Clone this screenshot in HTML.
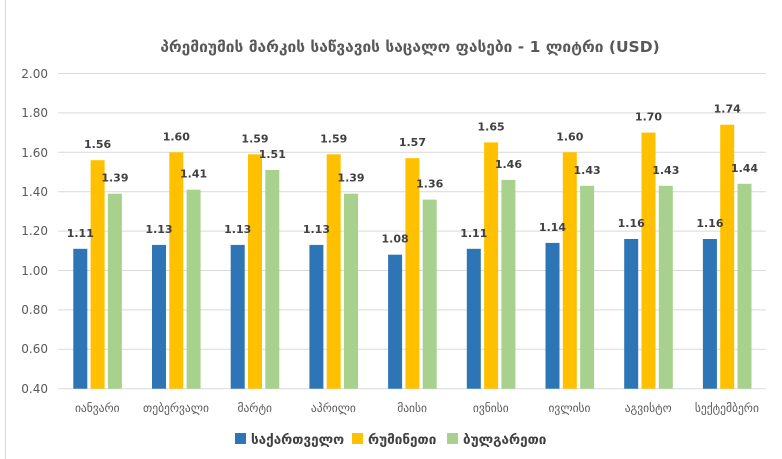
<!DOCTYPE html>
<html><head><meta charset="utf-8"><style>
body{margin:0;background:#fff}
svg{display:block}
text{font-family:"DejaVu Sans","Liberation Sans",sans-serif}
.l{font-size:11px;font-weight:bold;fill:#404040;text-anchor:middle}
.c{font-size:11.5px;fill:#595959;text-anchor:middle}
</style></head><body>
<svg width="782" height="459" xmlns="http://www.w3.org/2000/svg">
<rect x="0" y="0" width="782" height="459" fill="#fff"/>
<line x1="5.5" y1="0" x2="5.5" y2="459" stroke="#d9d9d9"/>
<text x="410" y="52" text-anchor="middle" font-size="15.5" font-weight="bold" fill="#595959">პრემიუმის მარკის საწვავის საცალო ფასები - 1 ლიტრი (USD)</text>
<g stroke="#d9d9d9" stroke-width="1">
<line x1="58" x2="766" y1="73.5" y2="73.5"/>
<line x1="58" x2="766" y1="112.9" y2="112.9"/>
<line x1="58" x2="766" y1="152.3" y2="152.3"/>
<line x1="58" x2="766" y1="191.7" y2="191.7"/>
<line x1="58" x2="766" y1="231.1" y2="231.1"/>
<line x1="58" x2="766" y1="270.5" y2="270.5"/>
<line x1="58" x2="766" y1="309.9" y2="309.9"/>
<line x1="58" x2="766" y1="349.3" y2="349.3"/>
<line x1="58" x2="766" y1="388.7" y2="388.7"/>
</g>
<g font-size="12" fill="#595959" text-anchor="end">
<text x="48" y="78">2.00</text><text x="48" y="117">1.80</text><text x="48" y="157">1.60</text>
<text x="48" y="196">1.40</text><text x="48" y="235">1.20</text><text x="48" y="275">1.00</text>
<text x="48" y="314">0.80</text><text x="48" y="353">0.60</text><text x="48" y="393">0.40</text>
</g>

<rect x="73.3" y="248.8" width="14" height="139.9" fill="#2e75b6"/>
<rect x="90.6" y="160.2" width="14" height="228.5" fill="#ffc000"/>
<rect x="107.9" y="193.7" width="14" height="195" fill="#a9d18e"/>
<text class="l" x="80.3" y="236.8">1.11</text><text class="l" x="97.6" y="148.2">1.56</text><text class="l" x="114.9" y="181.7">1.39</text>
<text class="c" x="97.3" y="412">იანვარი</text>

<rect x="152" y="244.9" width="14" height="143.8" fill="#2e75b6"/>
<rect x="169.3" y="152.3" width="14" height="236.4" fill="#ffc000"/>
<rect x="186.6" y="189.7" width="14" height="199" fill="#a9d18e"/>
<text class="l" x="159" y="232.9">1.13</text><text class="l" x="176.3" y="140.3">1.60</text><text class="l" x="193.6" y="177.7">1.41</text>
<text class="c" x="176" y="412">თებერვალი</text>

<rect x="230.7" y="244.9" width="14" height="143.8" fill="#2e75b6"/>
<rect x="248" y="154.3" width="14" height="234.4" fill="#ffc000"/>
<rect x="265.3" y="170" width="14" height="218.7" fill="#a9d18e"/>
<text class="l" x="237.7" y="232.9">1.13</text><text class="l" x="255" y="142.3">1.59</text><text class="l" x="272.3" y="158">1.51</text>
<text class="c" x="254.7" y="412">მარტი</text>

<rect x="309.4" y="244.9" width="14" height="143.8" fill="#2e75b6"/>
<rect x="326.7" y="154.3" width="14" height="234.4" fill="#ffc000"/>
<rect x="344" y="193.7" width="14" height="195" fill="#a9d18e"/>
<text class="l" x="316.4" y="232.9">1.13</text><text class="l" x="333.7" y="142.3">1.59</text><text class="l" x="351" y="181.7">1.39</text>
<text class="c" x="333.4" y="412">აპრილი</text>

<rect x="388.1" y="254.7" width="14" height="134" fill="#2e75b6"/>
<rect x="405.4" y="158.2" width="14" height="230.5" fill="#ffc000"/>
<rect x="422.7" y="199.6" width="14" height="189.1" fill="#a9d18e"/>
<text class="l" x="395.1" y="242.7">1.08</text><text class="l" x="412.4" y="146.2">1.57</text><text class="l" x="429.7" y="187.6">1.36</text>
<text class="c" x="412.1" y="412">მაისი</text>

<rect x="466.8" y="248.8" width="14" height="139.9" fill="#2e75b6"/>
<rect x="484.1" y="142.4" width="14" height="246.3" fill="#ffc000"/>
<rect x="501.4" y="179.9" width="14" height="208.8" fill="#a9d18e"/>
<text class="l" x="473.8" y="236.8">1.11</text><text class="l" x="491.1" y="130.4">1.65</text><text class="l" x="508.4" y="167.9">1.46</text>
<text class="c" x="490.8" y="412">ივნისი</text>

<rect x="545.5" y="242.9" width="14" height="145.8" fill="#2e75b6"/>
<rect x="562.8" y="152.3" width="14" height="236.4" fill="#ffc000"/>
<rect x="580.1" y="185.8" width="14" height="202.9" fill="#a9d18e"/>
<text class="l" x="552.5" y="230.9">1.14</text><text class="l" x="569.8" y="140.3">1.60</text><text class="l" x="587.1" y="173.8">1.43</text>
<text class="c" x="569.5" y="412">ივლისი</text>

<rect x="624.2" y="239" width="14" height="149.7" fill="#2e75b6"/>
<rect x="641.5" y="132.6" width="14" height="256.1" fill="#ffc000"/>
<rect x="658.8" y="185.8" width="14" height="202.9" fill="#a9d18e"/>
<text class="l" x="631.2" y="227">1.16</text><text class="l" x="648.5" y="120.6">1.70</text><text class="l" x="665.8" y="173.8">1.43</text>
<text class="c" x="648.2" y="412">აგვისტო</text>

<rect x="702.9" y="239" width="14" height="149.7" fill="#2e75b6"/>
<rect x="720.2" y="124.7" width="14" height="264" fill="#ffc000"/>
<rect x="737.5" y="183.8" width="14" height="204.9" fill="#a9d18e"/>
<text class="l" x="709.9" y="227">1.16</text><text class="l" x="727.2" y="112.7">1.74</text><text class="l" x="744.5" y="171.8">1.44</text>
<text class="c" x="726.9" y="412">სექტემბერი</text>

<g font-size="13.5" font-weight="bold" fill="#404040">
<rect x="235" y="433" width="11" height="11" fill="#2e75b6"/><text x="251" y="444">საქართველო</text>
<rect x="352" y="433" width="11" height="11" fill="#ffc000"/><text x="368" y="444">რუმინეთი</text>
<rect x="447" y="433" width="11" height="11" fill="#a9d18e"/><text x="463" y="444">ბულგარეთი</text>
</g>
</svg>
</body></html>
